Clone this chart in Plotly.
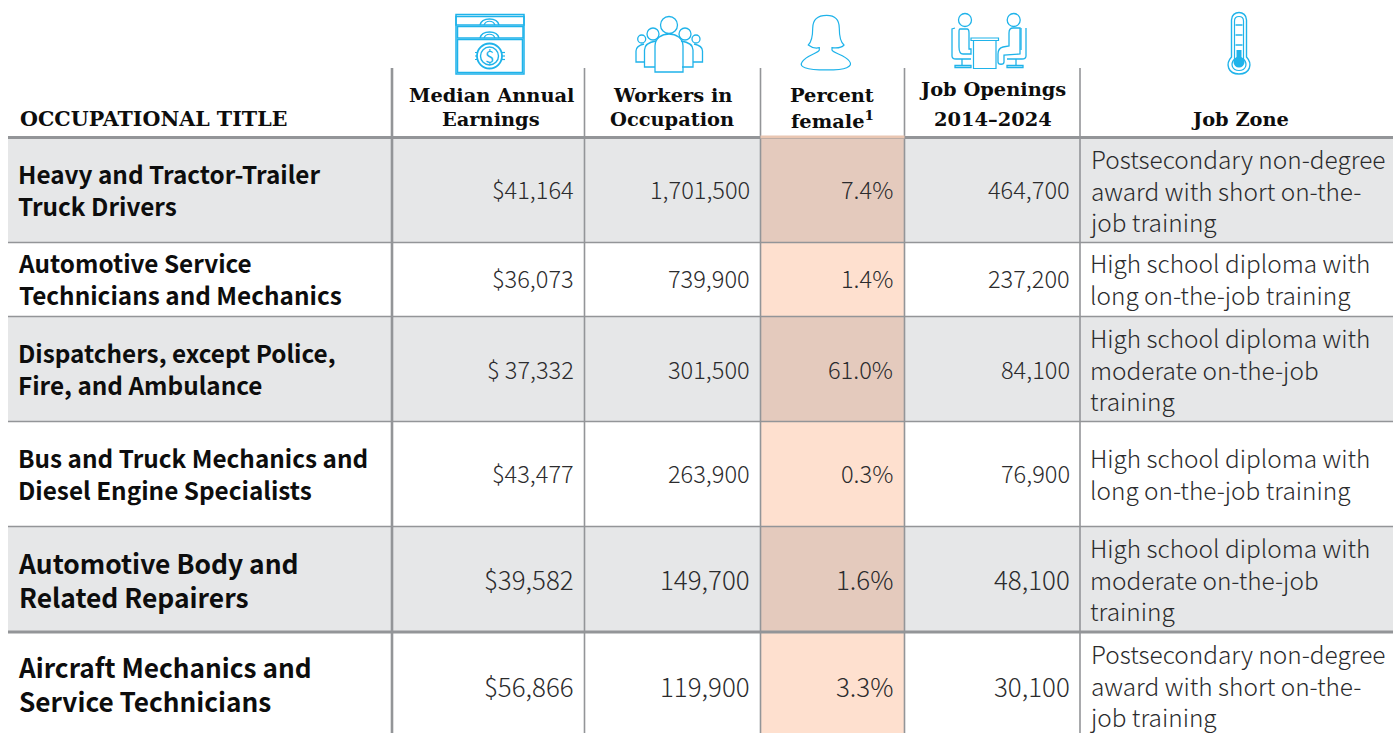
import plotly.graph_objects as go

# ---------- data ----------
titles = ["Heavy and Tractor-Trailer<br>Truck Drivers", "Automotive Service<br>Technicians and Mechanics",
          "Dispatchers, except Police,<br>Fire, and Ambulance", "Bus and Truck Mechanics and<br>Diesel Engine Specialists",
          "Automotive Body and<br>Related Repairers", "Aircraft Mechanics and<br>Service Technicians"]
earnings = ["$41,164", "$36,073", "$ 37,332", "$43,477", "$39,582", "$56,866"]
workers = ["1,701,500", "739,900", "301,500", "263,900", "149,700", "119,900"]
female = ["7.4%", "1.4%", "61.0%", "0.3%", "1.6%", "3.3%"]
openings = ["464,700", "237,200", "84,100", "76,900", "48,100", "30,100"]
zones = ["Postsecondary non-degree<br>award with short on-the-<br>job training",
         "High school diploma with<br>long on-the-job training",
         "High school diploma with<br>moderate on-the-job<br>training",
         "High school diploma with<br>long on-the-job training",
         "High school diploma with<br>moderate on-the-job<br>training",
         "Postsecondary non-degree<br>award with short on-the-<br>job training"]
headers = ["Median Annual|Earnings", "Workers in|Occupation", "Percent|female<sup>1</sup>",
           "Job Openings|2014–2024", "Job Zone"]
first_header = "OCCUPATIONAL TITLE"

# ---------- layout constants ----------
W, H = 1393, 733
row_edges = [137.5, 242.5, 316.5, 421.5, 526.5, 632, 740]
col_edges = [392, 584.5, 760.5, 904.5, 1080]
num_right = [573.5, 749.5, 893, 1069.5]
LINE = "#939598"
GREY, PEACH, PEACH_GREY = "#E6E7E8", "#FEE0CF", "#E4CABD"
CY = "#1FB3EA"
SANS = "Noto Sans CJK SC"
SLAB = "DejaVu Serif"
INK, BODY = "#0d0d0d", "#2b2b2d"

shapes, ann = [], []


def rect(x0, y0, x1, y1, fill=None, lc=None, lw=0):
    shapes.append(dict(type="rect", xref="x", yref="y", x0=x0, y0=y0, x1=x1, y1=y1,
                       fillcolor=fill or "rgba(0,0,0,0)", line=dict(color=lc or "rgba(0,0,0,0)", width=lw), layer="below"))


def seg(x0, y0, x1, y1, c=LINE, w=1.5):
    shapes.append(dict(type="line", xref="x", yref="y", x0=x0, y0=y0, x1=x1, y1=y1, line=dict(color=c, width=w), layer="below"))


def circ(cx, cy, r, c=CY, w=1.3, fill=None):
    shapes.append(dict(type="circle", xref="x", yref="y", x0=cx - r, y0=cy - r, x1=cx + r, y1=cy + r,
                       line=dict(color=c, width=w), fillcolor=fill or "rgba(0,0,0,0)", layer="below"))


def path(d, c=CY, w=1.3, fill=None):
    shapes.append(dict(type="path", xref="x", yref="y", path=d, line=dict(color=c, width=w),
                       fillcolor=fill or "rgba(0,0,0,0)", layer="below"))


def text(x, y, s, size, family=SANS, color=BODY, anchor="left", weight=400):
    ann.append(dict(x=x, y=y, xref="x", yref="y", text=s, showarrow=False, xanchor=anchor, yanchor="middle",
                    borderpad=0, borderwidth=0, align=anchor,
                    font=dict(family=family, size=size, color=color, weight=weight)))


# ---------- cells ----------
for i in range(6):
    y0, y1 = row_edges[i], row_edges[i + 1]
    if i % 2 == 0:
        rect(8, y0, W, y1, GREY)
    rect(col_edges[2], y0, col_edges[3], y1, PEACH_GREY if i % 2 == 0 else PEACH)

for i, y in enumerate(row_edges[:-1]):
    seg(8, y, W, y, w=3 if i in (0, 5) else 1.6)
for j, x in enumerate(col_edges):
    seg(x, 68, x, H + 5, w=2.6 if j == 0 else 1.6)
seg(col_edges[2], 137, col_edges[3], 137, c="#E9C6B2", w=3)

# ---------- row text ----------
name_size = [24.3, 24.3, 24.3, 24.3, 26.4, 26.2]
name_mid = [189.5, 278, 368, 473, 579, 683.5]
num_size = [23.6, 23.6, 23.6, 23.6, 25.9, 25.9]
num_mid = [189, 278, 368.5, 473, 578.5, 685]
zone_mid = [190, 278.5, 368.5, 473.5, 578.5, 684.5]
for i in range(6):
    text(17.5, name_mid[i], titles[i], name_size[i], color=INK, weight=700)
    for col, right in zip((earnings, workers, female, openings), num_right):
        text(right, num_mid[i], col[i], num_size[i], anchor="right", weight=300)
    text(1089.5, zone_mid[i], zones[i], 24.4, weight=300)

# ---------- header text ----------
text(20, 119, first_header, 20.6, family=SLAB, color=INK, weight=700)
hdr_x = [491, 672, 832, 992.5, 1240]
hdr_y = [[95.5, 119.5], [95.5, 119.5], [95.5, 119.5], [89.5, 119.5], [119.5]]
for s, x, ys in zip(headers, hdr_x, hdr_y):
    for line, y in zip(s.split("|"), ys):
        text(x, y, line, 19.4, family=SLAB, color=INK, anchor="center", weight=700)

# ---------- icons ----------
# money
for y0, y1 in [(14.5, 74), (16.5, 25)]:
    rect(456, y0, 524, y1, None, CY, 1.5)
rect(457.5, 26.5, 523, 38, None, CY, 1.5)
rect(457.5, 39.5, 522.5, 72.5, None, CY, 1.5)
for yb in (25, 38):
    path(f"M 480,{yb} C 482,{yb-8} 497,{yb-8} 499,{yb}", w=1.5)
    path(f"M 484,{yb} C 486,{yb-5} 493,{yb-5} 495,{yb}", w=1.2)
circ(489.5, 56, 12.5, w=1.8)
circ(489.5, 56, 9, w=1.4)
for dy in (-3.5, 0, 3.5):
    seg(475, 56 + dy, 477, 56 + dy, c=CY, w=1.2)
    seg(502, 56 + dy, 505, 56 + dy, c=CY, w=1.2)
text(489.5, 56, "$", 16.5, color=CY, anchor="center", weight=400)

# people
circ(669, 25, 8.5)
for cx in (653, 685):
    circ(cx, 34, 6)
for cx in (641.7, 696):
    circ(cx, 39, 4)
path("M 655,72 L 655,46 C 655,30 683,30 683,46 L 683,72 Z")
path("M 655,67 L 644.5,67 L 644.5,50 C 644.5,44 650,42 656,41")
path("M 682,67 L 693,67 L 693,50 C 693,44 688,42 681,41")
path("M 644.5,62 L 636,62 L 636,51 C 636,47 640,45 644,44")
path("M 693,62 L 702.5,62 L 702.5,51 C 702.5,47 699,45 694,44")

# woman
path("M 826.7,15.3 C 817,15.3 812.7,20.7 812.7,28.3 C 812.7,36.7 811.7,41.7 808.3,45 "
     "C 811.7,47.7 816.7,48.3 819.3,47.7 L 819.3,50 C 818.3,53.3 806.7,55 802.3,61.7 "
     "C 800,65 801.7,66.7 805,67.7 C 813.3,70.7 840,70.7 846.7,67.7 C 850.7,66 851.7,64 849.3,61 "
     "C 845,55 833.3,53.3 832,50 L 832,47.7 C 836.7,48.3 841.7,47.7 844,45 "
     "C 840,41.7 839.3,36.7 839.3,28.3 C 839.3,20.7 836.7,15.3 826.7,15.3 Z", w=1.2)

# interview
circ(965, 20, 6.5)
circ(1013.7, 20, 6.5)
rect(971, 38, 998.5, 40.5, None, CY, 1.2)
rect(973.5, 40.5, 996, 68.5, None, CY, 1.2)
path("M 960,29 L 967,29 C 969,29 969,31 969,33 L 969,49 L 971,49 L 971,54 L 963,54 C 959,54 959,50 959,47 L 959,32 C 959,30 959,29 960,29 Z")
path("M 955,28 L 952,29 L 952,56 C 952,58 954,59 956,59 L 971,59")
path("M 962,59 L 962,66 M 955,67.5 L 971,67.5 L 971,65.5 L 955,65.5 Z")
path("M 1020,28 L 1013,28 C 1010,28 1009,30 1009,33 L 1009,46 L 1003,47 C 999,48 998,51 998,54 L 998,62 C 998,65 1004,65 1004,62 L 1004,55 L 1020,54 Z")
path("M 1021,28 L 1021,50 M 1026,28 L 1026,56 C 1026,58 1024,59 1022,59 L 1007,59")
path("M 1016,59 L 1016,66 M 1007,67.5 L 1023,67.5 L 1023,65.5 L 1007,65.5 Z")

# thermometer
tx = 1239
path(f"M {tx-7.5},57 L {tx-7.5},20 C {tx-7.5},10 {tx+7.5},10 {tx+7.5},20 L {tx+7.5},57 C {tx+14},64 {tx+11},74 {tx},74 C {tx-11},74 {tx-14},64 {tx-7.5},57 Z", w=1.4)
path(f"M {tx-4.5},59 L {tx-4.5},21 C {tx-4.5},15 {tx+4.5},15 {tx+4.5},21 L {tx+4.5},59 C {tx+9},64 {tx+7},70.5 {tx},70.5 C {tx-7},70.5 {tx-9},64 {tx-4.5},59 Z", w=1.2)
rect(tx - 2.5, 50, tx + 2.5, 60, CY)
circ(tx, 62, 5.5, w=0, fill=CY)
for y in (25, 35, 45):
    seg(tx - 3.5, y, tx + 3.5, y, c=CY, w=1.5)

fig = go.Figure(go.Scatter(x=[0, W], y=[0, H], mode="markers", marker=dict(opacity=0), hoverinfo="skip"))
fig.update_layout(width=W, height=H, margin=dict(l=0, r=0, t=0, b=0), paper_bgcolor="white", plot_bgcolor="white",
                  showlegend=False, shapes=shapes, annotations=ann,
                  xaxis=dict(range=[0, W], visible=False, fixedrange=True),
                  yaxis=dict(range=[H, 0], visible=False, fixedrange=True))
fig.write_html("out.html", config=dict(displayModeBar=False),
               post_script="document.body.style.margin='0';document.documentElement.style.overflow='hidden';")
